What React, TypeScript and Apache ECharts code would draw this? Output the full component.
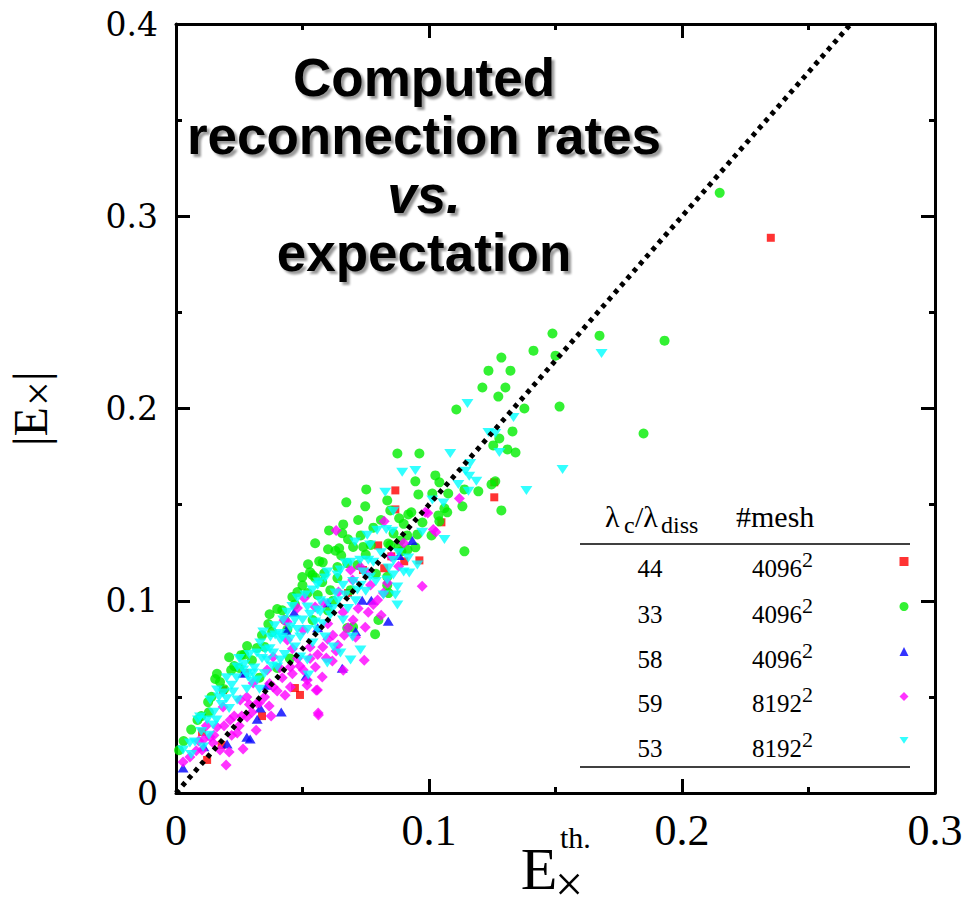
import React, { useEffect, useRef } from 'react';
import * as echarts from 'echarts';

// ---------- data ----------
const seriesNames = ['44', '33', '58', '59', '53'];
const meshSizes = ['4096', '4096', '4096', '8192', '8192'];
const xTickValues = [0, 0.1, 0.2, 0.3];
const yTickValues = [0, 0.1, 0.2, 0.3, 0.4];
const guideLine = [[0, 0], [0.2667, 0.4]];

const red44 = [
  [0.2351, 0.2888], [0.0867, 0.1574], [0.0867, 0.1475], [0.1258, 0.1616], [0.1258, 0.1538],
  [0.1049, 0.1408], [0.0799, 0.1288], [0.0851, 0.1231], [0.0902, 0.1205], [0.0962, 0.121],
  [0.0823, 0.1169], [0.0739, 0.116], [0.068, 0.104], [0.047, 0.0546], [0.049, 0.051],
  [0.0186, 0.0535], [0.0273, 0.0624], [0.034, 0.04], [0.0103, 0.0317], [0.0123, 0.0172],
  [0.018, 0.025]
];

const green33 = [
  [0.2149, 0.3122], [0.1931, 0.2353], [0.1848, 0.187], [0.1674, 0.2379], [0.1516, 0.201],
  [0.1488, 0.239], [0.15, 0.2275], [0.1413, 0.2301], [0.1286, 0.2265], [0.1235, 0.2197],
  [0.1322, 0.2197], [0.1211, 0.2109], [0.1302, 0.2109], [0.1274, 0.2062], [0.1108, 0.1995],
  [0.1377, 0.2], [0.133, 0.1881], [0.1278, 0.1844], [0.1254, 0.1808], [0.131, 0.1787],
  [0.1342, 0.1771], [0.0875, 0.1766], [0.0962, 0.1766], [0.1025, 0.1652], [0.0946, 0.1621],
  [0.1041, 0.1616], [0.1262, 0.1621], [0.1247, 0.1605], [0.1195, 0.1569], [0.1076, 0.1558],
  [0.114, 0.1579], [0.0958, 0.1553], [0.1013, 0.1558], [0.0835, 0.1522], [0.1132, 0.1491],
  [0.1286, 0.147], [0.1061, 0.1481], [0.1072, 0.146], [0.0918, 0.1449], [0.0882, 0.1429],
  [0.1037, 0.1444], [0.1041, 0.1413], [0.114, 0.1257], [0.0954, 0.1345], [0.0887, 0.1314],
  [0.0839, 0.1298], [0.0752, 0.1579], [0.0673, 0.1512], [0.0748, 0.1491], [0.0847, 0.147],
  [0.0661, 0.1397], [0.0657, 0.1351], [0.0605, 0.1366], [0.055, 0.1299], [0.0601, 0.1268],
  [0.0522, 0.119], [0.0566, 0.1205], [0.0586, 0.1143], [0.053, 0.1148], [0.0645, 0.1273],
  [0.0653, 0.1236], [0.0638, 0.1175], [0.0677, 0.1196], [0.0717, 0.1186], [0.0499, 0.1123],
  [0.0539, 0.1134], [0.0578, 0.1097], [0.0638, 0.1118], [0.048, 0.1045], [0.052, 0.104],
  [0.061, 0.1055], [0.04, 0.0957], [0.0365, 0.0879], [0.038, 0.0837], [0.0281, 0.0764],
  [0.032, 0.0754], [0.021, 0.0706], [0.0257, 0.0717], [0.0155, 0.0593], [0.0174, 0.0577],
  [0.0218, 0.0639], [0.0162, 0.062], [0.0127, 0.0473], [0.0085, 0.038], [0.0012, 0.0223],
  [0.0787, 0.0826], [0.07, 0.0863], [0.0677, 0.0858], [0.084, 0.104], [0.0835, 0.1081],
  [0.0946, 0.1278], [0.0891, 0.1257], [0.0914, 0.134], [0.0974, 0.1407], [0.101, 0.134],
  [0.0847, 0.129], [0.088, 0.128], [0.0915, 0.1265], [0.069, 0.1055], [0.08, 0.09],
  [0.079, 0.114], [0.0835, 0.1125], [0.045, 0.07], [0.04, 0.065], [0.033, 0.06],
  [0.054, 0.09], [0.06, 0.095], [0.044, 0.085], [0.07, 0.128], [0.073, 0.134],
  [0.078, 0.138], [0.072, 0.142], [0.081, 0.142], [0.047, 0.098], [0.043, 0.09],
  [0.03, 0.069], [0.025, 0.065], [0.013, 0.042], [0.006, 0.033], [0.003, 0.027],
  [0.019, 0.054], [0.035, 0.076], [0.056, 0.103], [0.062, 0.1], [0.075, 0.124], [0.077, 0.129],
  [0.01, 0.04], [0.014, 0.05], [0.023, 0.066], [0.027, 0.072], [0.034, 0.082], [0.037, 0.093],
  [0.042, 0.095], [0.046, 0.102], [0.05, 0.108], [0.055, 0.112], [0.058, 0.12], [0.063, 0.126],
  [0.068, 0.132], [0.074, 0.128], [0.086, 0.135], [0.09, 0.14], [0.093, 0.146]
];

const blue58 = [
  [0.0839, 0.0894], [0.0736, 0.1003], [0.0772, 0.1003], [0.0416, 0.0421], [0.0657, 0.0649],
  [0.0293, 0.0281], [0.0467, 0.094], [0.0435, 0.0847], [0.0265, 0.0623], [0.0202, 0.0255],
  [0.0321, 0.0384], [0.0514, 0.0608], [0.0882, 0.1236], [0.0934, 0.1314], [0.0333, 0.0442],
  [0.028, 0.029], [0.0028, 0.013], [0.056, 0.086], [0.036, 0.056], [0.06, 0.099],
  [0.011, 0.024], [0.071, 0.084]
];

const magenta59 = [
  [0.0744, 0.0691], [0.0748, 0.0862], [0.0811, 0.0925], [0.0562, 0.0416], [0.0661, 0.0639],
  [0.0578, 0.0603], [0.0554, 0.0535], [0.0518, 0.0561], [0.0431, 0.0509], [0.0376, 0.04],
  [0.0317, 0.0327], [0.0265, 0.0229], [0.021, 0.0213], [0.0368, 0.0452], [0.0633, 0.0738],
  [0.0594, 0.0702], [0.0618, 0.0686], [0.0665, 0.0821], [0.0427, 0.0899], [0.0507, 0.1013],
  [0.0633, 0.1366], [0.0823, 0.1413], [0.0973, 0.1075], [0.112, 0.1532], [0.0985, 0.146],
  [0.1017, 0.1371], [0.0198, 0.0145], [0.044, 0.0889], [0.0503, 0.0848], [0.044, 0.0796],
  [0.0384, 0.0707], [0.0452, 0.0655], [0.0503, 0.064], [0.036, 0.064], [0.0305, 0.0572],
  [0.0384, 0.0551], [0.0452, 0.0551], [0.0254, 0.0484], [0.0321, 0.0468], [0.0186, 0.0447],
  [0.0214, 0.038], [0.0162, 0.0343], [0.0135, 0.0291], [0.0174, 0.0224], [0.0242, 0.0312],
  [0.0281, 0.0395], [0.055, 0.0967], [0.0583, 0.0988], [0.0642, 0.1045], [0.0698, 0.1108],
  [0.0757, 0.1144], [0.0769, 0.1082], [0.0797, 0.1004], [0.0836, 0.1092], [0.069, 0.116],
  [0.0729, 0.1175], [0.1027, 0.1357], [0.0995, 0.1456], [0.0028, 0.0161], [0.0055, 0.0187],
  [0.0103, 0.0224], [0.0147, 0.026], [0.0563, 0.0406], [0.0559, 0.0536], [0.0519, 0.0588],
  [0.0551, 0.0655], [0.048, 0.0962], [0.06, 0.08], [0.07, 0.09], [0.072, 0.096],
  [0.066, 0.094], [0.035, 0.05], [0.029, 0.046], [0.023, 0.04], [0.012, 0.035],
  [0.009, 0.027], [0.088, 0.118], [0.085, 0.123], [0.09, 0.13], [0.058, 0.076],
  [0.048, 0.07], [0.042, 0.06], [0.053, 0.076],
  [0.015, 0.03], [0.019, 0.035], [0.022, 0.03], [0.026, 0.04], [0.028, 0.05], [0.03, 0.042],
  [0.033, 0.047], [0.037, 0.057], [0.04, 0.053], [0.041, 0.065], [0.046, 0.062], [0.049, 0.066],
  [0.053, 0.07], [0.056, 0.072], [0.062, 0.082], [0.064, 0.077], [0.068, 0.086], [0.071, 0.081],
  [0.076, 0.094], [0.078, 0.098], [0.082, 0.104], [0.008, 0.022], [0.011, 0.028], [0.025, 0.035],
  [0.046, 0.075], [0.06, 0.088]
];

const cyan53 = [
  [0.1682, 0.2286], [0.1528, 0.1683], [0.1385, 0.1574], [0.1152, 0.2026], [0.1334, 0.1953],
  [0.1235, 0.1875], [0.1262, 0.187], [0.1278, 0.1771], [0.1084, 0.1766], [0.1163, 0.1714],
  [0.0946, 0.1678], [0.0894, 0.1668], [0.1144, 0.1673], [0.1159, 0.1647], [0.1187, 0.1621],
  [0.1116, 0.1605], [0.1156, 0.1569], [0.0827, 0.1564], [0.0859, 0.1465], [0.0973, 0.1356],
  [0.1061, 0.1319], [0.0831, 0.1371], [0.0855, 0.1361], [0.1013, 0.1524], [0.1057, 0.1508],
  [0.0756, 0.1341], [0.0795, 0.1367], [0.0708, 0.1305], [0.0767, 0.129], [0.0728, 0.1211],
  [0.076, 0.1211], [0.0918, 0.1222], [0.0954, 0.1186], [0.0859, 0.1134], [0.0835, 0.1108],
  [0.0922, 0.1144], [0.0875, 0.1071], [0.0867, 0.103], [0.0875, 0.0978], [0.082, 0.103],
  [0.048, 0.1014], [0.0511, 0.103], [0.0539, 0.1056], [0.0563, 0.1097], [0.059, 0.1118],
  [0.065, 0.116], [0.067, 0.1196], [0.069, 0.12], [0.0598, 0.1149], [0.0638, 0.1134],
  [0.0767, 0.1123], [0.0717, 0.1056], [0.0424, 0.09], [0.0452, 0.0863], [0.0345, 0.0837],
  [0.0373, 0.0811], [0.0412, 0.0796], [0.0491, 0.0811], [0.0559, 0.0848], [0.059, 0.0811],
  [0.0622, 0.0759], [0.065, 0.0728], [0.069, 0.0692], [0.0729, 0.0744], [0.032, 0.0728],
  [0.036, 0.0692], [0.04, 0.0655], [0.0305, 0.0624], [0.0519, 0.0967], [0.0559, 0.0952],
  [0.061, 0.0926], [0.0392, 0.0822], [0.0333, 0.078], [0.0353, 0.0744], [0.0384, 0.0728],
  [0.0412, 0.0692], [0.0242, 0.0655], [0.0266, 0.064], [0.0285, 0.0603], [0.0321, 0.0588],
  [0.0162, 0.0536], [0.0186, 0.052], [0.0226, 0.0525], [0.0242, 0.0484], [0.0095, 0.0395],
  [0.0123, 0.038], [0.0147, 0.0354], [0.0075, 0.0265], [0.0107, 0.0239], [0.0491, 0.0707],
  [0.0519, 0.0692], [0.0523, 0.0614], [0.0698, 0.0811], [0.0598, 0.0676], [0.0028, 0.0224],
  [0.0055, 0.026], [0.0135, 0.0484], [0.0087, 0.038], [0.02, 0.06], [0.025, 0.07],
  [0.029, 0.072], [0.044, 0.094], [0.047, 0.09], [0.057, 0.1], [0.063, 0.104],
  [0.066, 0.108], [0.07, 0.11], [0.074, 0.115], [0.078, 0.12], [0.081, 0.125],
  [0.047, 0.076], [0.054, 0.078], [0.058, 0.088], [0.066, 0.09], [0.068, 0.096],
  [0.018, 0.046], [0.021, 0.044], [0.028, 0.054], [0.033, 0.054], [0.035, 0.062], [0.043, 0.072],
  [0.015, 0.042], [0.017, 0.05], [0.022, 0.056], [0.024, 0.06], [0.027, 0.067], [0.031, 0.065],
  [0.034, 0.07], [0.037, 0.075], [0.039, 0.087], [0.041, 0.083], [0.045, 0.08], [0.048, 0.085],
  [0.05, 0.09], [0.053, 0.093], [0.055, 0.089], [0.057, 0.094], [0.06, 0.099], [0.062, 0.096],
  [0.064, 0.1], [0.067, 0.103], [0.071, 0.1], [0.073, 0.108], [0.075, 0.105], [0.079, 0.11],
  [0.084, 0.117], [0.086, 0.121], [0.088, 0.125], [0.09, 0.115], [0.046, 0.097], [0.052, 0.085],
  [0.028, 0.062], [0.02, 0.049], [0.013, 0.03], [0.006, 0.02], [0.01, 0.032], [0.016, 0.038],
  [0.03, 0.058], [0.038, 0.066], [0.042, 0.081], [0.056, 0.108]
];

// ---------- layout / style constants ----------
const GRID = { left: 176, right: 36, top: 24, bottom: 123 };
const SERIF = '"Liberation Serif", "Times New Roman", serif';
const SANS = '"Liberation Sans", Arial, sans-serif';
const rowBaselines = [577, 623, 668, 712, 757];
const DOWN_TRIANGLE = 'path://M0,0 L12,0 L6,9 Z';

function fmt(v: number) {
  return v === 0 ? '0' : v.toFixed(1);
}

function axisCommon(showLabel: boolean, font: string, fontSize: number, margin: number) {
  return {
    type: 'value' as const,
    axisLine: { show: true, onZero: false, lineStyle: { color: '#000', width: 3 } },
    axisTick: { show: true, inside: true, length: 14, lineStyle: { color: '#000', width: 3 } },
    minorTick: { show: true, splitNumber: 2, length: 6, lineStyle: { color: '#000', width: 3 } },
    splitLine: { show: false },
    minorSplitLine: { show: false },
    axisLabel: {
      show: showLabel,
      color: '#000',
      fontFamily: font,
      fontSize,
      margin,
      formatter: (v: number) => fmt(v),
    },
  };
}

export default function App() {
  const ref = useRef<HTMLDivElement>(null);

  useEffect(() => {
    if (!ref.current) return;
    const chart = echarts.init(ref.current, null, { renderer: 'svg' });

    const hdrMain = 30;
    const hdrSub = 24;
    const rowFs = 25;
    const mid = (baseline: number, fs: number) => baseline - 0.3375 * fs;
    const rot = Math.PI / 2;

    const graphics: any[] = [
      // title
      {
        type: 'text',
        x: 424,
        y: 48,
        z: 20,
        style: {
          text: 'Computed\nreconnection rates\n{i|vs.}\nexpectation',
          align: 'center',
          verticalAlign: 'top',
          fontFamily: SANS,
          fontWeight: 'bold',
          fontSize: 53,
          lineHeight: 58.5,
          fill: '#000',
          textShadowColor: 'rgba(0,0,0,0.4)',
          textShadowBlur: 2,
          textShadowOffsetX: 3,
          textShadowOffsetY: 3,
          rich: {
            i: {
              fontFamily: SANS,
              fontWeight: 'bold',
              fontStyle: 'italic',
              fontSize: 53,
              lineHeight: 58.5,
              fill: '#000',
              textShadowColor: 'rgba(0,0,0,0.4)',
              textShadowBlur: 2,
              textShadowOffsetX: 3,
              textShadowOffsetY: 3,
            },
          },
        },
      },
      // y axis name |E×| (rotated, reading bottom to top)
      {
        type: 'text', x: 30, y: 446, rotation: rot,
        style: { text: '|E', fontFamily: SERIF, fontSize: 48, fill: '#000', align: 'left', verticalAlign: 'middle' },
      },
      {
        type: 'text', x: 38, y: 406, rotation: rot,
        style: { text: '×', fontFamily: SERIF, fontSize: 44, fill: '#000', align: 'left', verticalAlign: 'middle' },
      },
      {
        type: 'text', x: 30, y: 381, rotation: rot,
        style: { text: '|', fontFamily: SERIF, fontSize: 48, fill: '#000', align: 'left', verticalAlign: 'middle' },
      },
      // x axis name E_x^th.
      {
        type: 'text', x: 539, y: mid(889, 60),
        style: { text: 'E', fontFamily: SERIF, fontSize: 60, fill: '#000', align: 'center', verticalAlign: 'middle' },
      },
      {
        type: 'text', x: 555, y: 884,
        style: { text: '×', fontFamily: SERIF, fontSize: 50, fill: '#000', align: 'left', verticalAlign: 'middle' },
      },
      {
        type: 'text', x: 560, y: mid(848, 30),
        style: { text: 'th.', fontFamily: SERIF, fontSize: 30, fill: '#000', align: 'left', verticalAlign: 'middle' },
      },
      // table rules
      { type: 'line', shape: { x1: 580, y1: 544, x2: 910, y2: 544 }, style: { stroke: '#000', lineWidth: 1.5 } },
      { type: 'line', shape: { x1: 580, y1: 767, x2: 910, y2: 767 }, style: { stroke: '#000', lineWidth: 1.5 } },
      // header
      { type: 'text', x: 605, y: mid(527, hdrMain), style: { text: 'λ', fontFamily: SERIF, fontSize: hdrMain, fill: '#000', verticalAlign: 'middle' } },
      { type: 'text', x: 624, y: mid(533, hdrSub), style: { text: 'c', fontFamily: SERIF, fontSize: hdrSub, fill: '#000', verticalAlign: 'middle' } },
      { type: 'text', x: 635, y: mid(527, hdrMain), style: { text: '/λ', fontFamily: SERIF, fontSize: hdrMain, fill: '#000', verticalAlign: 'middle' } },
      { type: 'text', x: 661, y: mid(533, hdrSub), style: { text: 'diss', fontFamily: SERIF, fontSize: hdrSub, fill: '#000', verticalAlign: 'middle' } },
      { type: 'text', x: 736, y: mid(527, hdrMain), style: { text: '#mesh', fontFamily: SERIF, fontSize: hdrMain, fill: '#000', verticalAlign: 'middle' } },
    ];

    seriesNames.forEach((name, i) => {
      const b = rowBaselines[i];
      graphics.push(
        { type: 'text', x: 650, y: mid(b, rowFs), style: { text: name, fontFamily: SERIF, fontSize: rowFs, fill: '#000', align: 'center', verticalAlign: 'middle' } },
        { type: 'text', x: 752, y: mid(b, rowFs), style: { text: meshSizes[i], fontFamily: SERIF, fontSize: rowFs, fill: '#000', align: 'left', verticalAlign: 'middle' } },
        { type: 'text', x: 802, y: mid(b - 10, 22), style: { text: '2', fontFamily: SERIF, fontSize: 22, fill: '#000', align: 'left', verticalAlign: 'middle' } },
      );
    });

    const scatterBase = { type: 'scatter' as const, xAxisIndex: 0, yAxisIndex: 0, z: 2 };

    const option: any = {
      animation: false,
      backgroundColor: '#fff',
      grid: { ...GRID, containLabel: false },
      xAxis: [
        { ...axisCommon(true, SERIF, 44, 15), position: 'bottom', min: 0, max: 0.3, interval: 0.1 },
        { ...axisCommon(false, SERIF, 44, 15), position: 'top', min: 0, max: 0.3, interval: 0.1 },
      ],
      yAxis: [
        { ...axisCommon(true, '"DejaVu Serif", serif', 33, 18), position: 'left', min: 0, max: 0.4, interval: 0.1 },
        { ...axisCommon(false, SERIF, 33, 18), position: 'right', min: 0, max: 0.4, interval: 0.1 },
      ],
      legend: {
        orient: 'vertical',
        left: 894.5,
        top: 552,
        itemWidth: 9,
        itemHeight: 9,
        itemGap: 36,
        selectedMode: false,
        data: seriesNames,
        formatter: () => '',
        textStyle: { fontSize: 9, lineHeight: 9 },
      },
      series: [
        { ...scatterBase, name: seriesNames[0], data: red44, symbol: 'rect', symbolSize: 8, itemStyle: { color: '#ff0000' } },
        { ...scatterBase, name: seriesNames[1], data: green33, symbol: 'circle', symbolSize: 10, itemStyle: { color: '#00ee00' } },
        { ...scatterBase, name: seriesNames[2], data: blue58, symbol: 'triangle', symbolSize: [11, 9], itemStyle: { color: '#0000ff' } },
        { ...scatterBase, name: seriesNames[3], data: magenta59, symbol: 'diamond', symbolSize: [11, 11], itemStyle: { color: '#ff00ff' } },
        { ...scatterBase, name: seriesNames[4], data: cyan53, symbol: DOWN_TRIANGLE, symbolSize: [12, 9], itemStyle: { color: '#00ffff' } },
        {
          type: 'line',
          name: 'guide',
          data: guideLine,
          showSymbol: false,
          symbol: 'none',
          z: 5,
          silent: true,
          lineStyle: { color: '#000', width: 5, type: [4.5, 5] },
        },
      ],
      graphic: graphics,
    };

    chart.setOption(option);
    return () => chart.dispose();
  }, []);

  return (
    <div
      ref={ref}
      style={{ position: 'absolute', left: 0, top: 0, width: 971, height: 916, background: '#fff' }}
    />
  );
}
